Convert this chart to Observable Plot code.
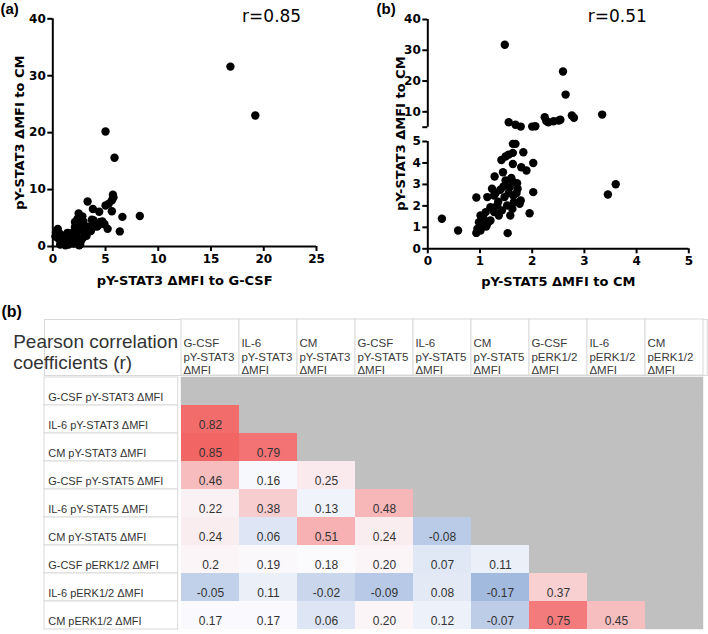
<!DOCTYPE html>
<html><head><meta charset="utf-8">
<script src="https://cdn.jsdelivr.net/npm/d3@7"></script>
<script src="https://cdn.jsdelivr.net/npm/@observablehq/plot@0.6"></script>
<style>
body{margin:0;background:#fff}
#fig{position:relative;width:708px;height:634px;overflow:hidden;background:#fff}
#fig svg{position:absolute;overflow:visible}
</style>
</head><body><div id="fig"></div>
<script>
// ---------- Panel (a) data ----------
const aXTicks = [0, 5, 10, 15, 20, 25];
const aYTicks = [0, 10, 20, 30, 40];
const aXLabel = "pY-STAT3 ΔMFI to G-CSF";
const aYLabel = "pY-STAT3 ΔMFI to CM";
const aR = "r=0.85";
const aPoints = [
  [16.84,31.6],[19.2,23.0],[5.0,20.2],[5.85,15.6],
  [5.7,9.1],[5.75,8.6],[5.6,8.1],[5.3,7.5],[5.0,7.2],[3.3,7.9],[3.8,6.6],[4.4,6.1],[5.6,6.2],
  [6.6,5.2],[8.25,5.35],[6.35,2.65],[5.2,3.1],[4.3,3.7],[4.7,4.4],[3.85,4.6],[2.45,5.8],[2.8,5.3],
  [2.1,4.3],[2.75,4.1],[3.4,3.5],[3.7,4.7],[2.1,3.4],[0.47,3.1],[0.3,2.5],[0.7,2.2],[1.2,1.9],
  [1.65,2.1],[1.95,2.5],[2.6,2.8],[3.05,2.5],[3.2,1.9],[2.9,1.6],[2.3,1.5],[1.8,1.2],[1.35,1.05],
  [0.9,0.95],[0.55,1.35],[0.25,1.75],[1.0,0.5],[1.5,0.35],[2.0,0.5],[2.45,0.75],[2.6,0.35],[0.7,0.35],
  [3.5,3.1],[3.95,3.5],[2.35,4.9],[1.4,2.4],[2.2,2.0],[1.1,1.5],[0.8,1.8],[2.7,1.1],[3.0,3.3],
  [2.5,3.6],[1.9,1.7],[1.6,0.8],[2.9,4.4],[4.5,4.3],[4.9,3.9],[4.2,3.5],[2.5,0.2],[1.2,0.2],[3.6,2.7]
];

// ---------- Panel (b) data (broken y axis) ----------
const bXTicks = [0, 1, 2, 3, 4, 5];
const bYTicksLow = [0, 1, 2, 3, 4, 5];
const bYTicksHigh = [5, 10, 20, 30, 40];
const bXLabel = "pY-STAT5 ΔMFI to CM";
const bYLabel = "pY-STAT3 ΔMFI to CM";
const bR = "r=0.51";
const bPointsHigh = [
  [1.475,31.8],[2.59,23.1],[2.64,15.6],[3.34,9.1],[2.76,8.8],[2.8,8.05],[2.24,8.25],[2.31,6.6],
  [2.41,6.95],[2.51,7.2],[2.54,7.4],[1.55,6.6],[1.68,5.8],[1.78,5.2],[2.0,5.2],[2.06,5.3],[2.27,7.0]
];
const bPointsLow = [
  [0.27,1.40],[0.58,0.85],[0.93,2.39],[0.93,0.74],[1.53,0.73],[1.95,1.66],[2.02,2.64],[2.02,4.0],
  [1.83,4.5],[1.68,4.89],[1.63,4.89],[1.63,4.47],[1.55,4.39],[1.49,4.3],[1.41,4.14],[1.63,3.95],
  [1.79,3.8],[1.89,3.65],[1.44,3.57],[1.28,3.37],[1.49,3.18],[1.63,3.13],[1.71,3.06],[1.57,2.87],
  [1.39,2.75],[1.23,2.8],[1.14,2.41],[1.27,2.48],[1.47,2.41],[1.64,2.48],[1.72,2.8],[1.78,2.25],
  [1.65,2.17],[1.52,2.02],[1.62,1.86],[1.76,2.1],[1.33,2.02],[1.2,1.94],[1.11,1.71],[1.27,1.71],
  [1.01,1.55],[1.07,1.4],[0.98,1.24],[1.04,1.09],[0.95,0.93],[1.01,0.85],[1.12,1.04],[1.2,1.32],
  [1.36,1.55],[1.42,1.79],[1.58,1.55],[3.45,2.53],[3.6,3.01],[1.3,2.6],[1.45,2.9],[1.55,2.6],
  [1.35,2.2],[1.15,1.2],[1.25,1.9],[1.7,2.6],[1.6,3.3]
];

// ---------- Correlation table data ----------
const tableTitle = "Pearson correlation\ncoefficients (r)";
const colHeaders = [
  "G-CSF\npY-STAT3\nΔMFI","IL-6\npY-STAT3\nΔMFI","CM\npY-STAT3\nΔMFI",
  "G-CSF\npY-STAT5\nΔMFI","IL-6\npY-STAT5\nΔMFI","CM\npY-STAT5\nΔMFI",
  "G-CSF\npERK1/2\nΔMFI","IL-6\npERK1/2\nΔMFI","CM\npERK1/2\nΔMFI"
];
const rowLabels = [
  "G-CSF pY-STAT3 ΔMFI","IL-6 pY-STAT3 ΔMFI","CM pY-STAT3 ΔMFI",
  "G-CSF pY-STAT5 ΔMFI","IL-6 pY-STAT5 ΔMFI","CM pY-STAT5 ΔMFI",
  "G-CSF pERK1/2 ΔMFI","IL-6 pERK1/2 ΔMFI","CM pERK1/2 ΔMFI"
];
const r_GCSF_STAT3 = [];
const r_IL6_STAT3  = ["0.82"];
const r_CM_STAT3   = ["0.85","0.79"];
const r_GCSF_STAT5 = ["0.46","0.16","0.25"];
const r_IL6_STAT5  = ["0.22","0.38","0.13","0.48"];
const r_CM_STAT5   = ["0.24","0.06","0.51","0.24","-0.08"];
const r_GCSF_ERK   = ["0.2","0.19","0.18","0.20","0.07","0.11"];
const r_IL6_ERK    = ["-0.05","0.11","-0.02","-0.09","0.08","-0.17","0.37"];
const r_CM_ERK     = ["0.17","0.17","0.06","0.20","0.12","-0.07","0.75","0.45"];
const lower = [r_GCSF_STAT3,r_IL6_STAT3,r_CM_STAT3,r_GCSF_STAT5,r_IL6_STAT5,r_CM_STAT5,r_GCSF_ERK,r_IL6_ERK,r_CM_ERK];

// ---------- helpers ----------
const fig = document.getElementById("fig");
function place(svg, left, top) { svg.style.left = left + "px"; svg.style.top = top + "px"; fig.appendChild(svg); }
const baseStyle = {background: "transparent", overflow: "visible", fontFamily: "DejaVu Sans", color: "black"};
const axisOpts = {tickSize: 5, fontSize: 12, fontWeight: "bold", color: "black", strokeWidth: 2, label: null};
const P = d => d[0], Q = d => d[1];
const DOT_R = 4.2;

// ---------- Panel (a) ----------
place(Plot.plot({
  width: 340, height: 300, marginLeft: 52.3, marginRight: 24, marginTop: 18.3, marginBottom: 54,
  style: baseStyle,
  x: {domain: [0, 25]}, y: {domain: [0, 40]},
  marks: [
    Plot.axisX(aXTicks, {...axisOpts, tickPadding: 3}),
    Plot.axisY(aYTicks, {...axisOpts, tickPadding: 2}),
    Plot.ruleX([0], {y1: 0, y2: 40, strokeWidth: 2}),
    Plot.ruleY([0], {x1: 0, x2: 25, strokeWidth: 2}),
    Plot.dot(aPoints, {x: P, y: Q, r: DOT_R, fill: "black"}),
    Plot.text([aXLabel], {frameAnchor: "bottom", dy: 38, fontSize: 13, fontWeight: "bold"}),
    Plot.text([aYLabel], {frameAnchor: "left", textAnchor: "middle", dx: -33, rotate: -90, fontSize: 13, fontWeight: "bold"}),
    Plot.text([aR], {frameAnchor: "top", dx: 87, dy: -8.8, fontSize: 17}),
    Plot.text(["(a)"], {frameAnchor: "top-left", dx: -52.3, dy: -15.5, lineAnchor: "top", textAnchor: "start", fontSize: 15, fontWeight: "bold", fontFamily: "Liberation Sans"})
  ]
}), 0, 0);

// ---------- Panel (b), upper segment ----------
place(Plot.plot({
  width: 368, height: 130, marginLeft: 87.3, marginRight: 19.7, marginTop: 19, marginBottom: 3.3,
  style: baseStyle,
  x: {domain: [0, 5], axis: null}, y: {domain: [5, 40]},
  marks: [
    Plot.axisY(bYTicksHigh, {...axisOpts, tickPadding: 2, tickFormat: d => d === 5 ? "" : d}),
    Plot.ruleX([0], {y1: 5, y2: 40, strokeWidth: 2}),
    Plot.dot(bPointsHigh, {x: P, y: Q, r: DOT_R, fill: "black"}),
    Plot.text([bR], {frameAnchor: "top", dx: 59, dy: -9.5, fontSize: 17}),
    Plot.text(["(b)"], {frameAnchor: "top-left", dx: -51.3, dy: -16.2, lineAnchor: "top", textAnchor: "start", fontSize: 15, fontWeight: "bold", fontFamily: "Liberation Sans"})
  ]
}), 340, 0);

// ---------- Panel (b), lower segment ----------
place(Plot.plot({
  width: 368, height: 170, marginLeft: 87.3, marginRight: 19.7, marginTop: 11, marginBottom: 51.7,
  style: baseStyle,
  x: {domain: [0, 5]}, y: {domain: [0, 5]},
  marks: [
    Plot.axisX(bXTicks, {...axisOpts, tickPadding: 3}),
    Plot.axisY(bYTicksLow, {...axisOpts, tickPadding: 2}),
    Plot.ruleX([0], {y1: 0, y2: 5, strokeWidth: 2}),
    Plot.ruleY([0], {x1: 0, x2: 5, strokeWidth: 2}),
    Plot.dot(bPointsLow, {x: P, y: Q, r: DOT_R, fill: "black"}),
    Plot.text([bXLabel], {frameAnchor: "bottom", dy: 36.7, fontSize: 13, fontWeight: "bold"}),
    Plot.text([bYLabel], {frameAnchor: "left", textAnchor: "middle", dx: -27.3, dy: -61.6, rotate: -90, fontSize: 13, fontWeight: "bold"})
  ]
}), 340, 130);

// ---------- Table ----------
const colKeys = colHeaders;
const cells = [], greys = [];
rowLabels.forEach((r, i) => colKeys.forEach((c, j) => {
  if (j < i) cells.push({row: r, col: c, text: lower[i][j], v: +lower[i][j]});
  else greys.push({row: r, col: c});
}));
const tableFont = "Liberation Sans";
const lineCol = "#d9d9d9";

// header
place(Plot.plot({
  width: 708, height: 56, marginLeft: 177.7, marginRight: 1.3, marginTop: 0, marginBottom: 0,
  style: {...baseStyle, fontFamily: tableFont},
  x: {domain: colKeys, padding: 0, axis: null},
  marks: [
    Plot.frame({stroke: lineCol, insetLeft: -133.7, fill: "white"}),
    Plot.cell(colKeys, {x: d => d, fill: "white", stroke: lineCol, inset: 0}),
    Plot.text(colKeys, {x: d => d, frameAnchor: "top", textAnchor: "start", lineAnchor: "top", dx: -27.1, dy: 18.5, lineHeight: 1.16, fontSize: 11.5, fill: "#3a3a3a"}),
    Plot.text([tableTitle], {frameAnchor: "top-left", textAnchor: "start", lineAnchor: "top", dx: -165, dy: 13.3, lineHeight: 1.1, fontSize: 19, fill: "#333"}),
    Plot.text(["(b)"], {frameAnchor: "top-left", textAnchor: "start", lineAnchor: "top", dx: -176.7, dy: -14, fontSize: 16, fontWeight: "bold", fill: "black"})
  ]
}), 0, 319);

// row labels
place(Plot.plot({
  width: 178, height: 256.7, marginLeft: 44, marginRight: 0.3, marginTop: 0, marginBottom: 0,
  style: {...baseStyle, fontFamily: tableFont},
  y: {domain: rowLabels, padding: 0, axis: null},
  marks: [
    Plot.cell(rowLabels, {y: d => d, fill: "white", stroke: lineCol, inset: 0}),
    Plot.text(rowLabels, {y: d => d, frameAnchor: "left", textAnchor: "start", dx: 3.7, dy: 6, fontSize: 11, fill: "#333"})
  ]
}), 0, 375);

// body
place(Plot.plot({
  width: 708, height: 256.7, marginLeft: 177.7, marginRight: 1.3, marginTop: 0, marginBottom: 0,
  style: {...baseStyle, fontFamily: tableFont},
  x: {domain: colKeys, padding: 0, axis: null},
  y: {domain: rowLabels, padding: 0, axis: null},
  color: {type: "linear", domain: [-0.17, 0.175, 0.85], range: ["#a3badf", "#fbfbfe", "#f26565"]},
  marks: [
    Plot.cell(greys, {x: "col", y: "row", fill: "#c0c0c0", stroke: "#c0c0c0", strokeWidth: 0.5, inset: 0}),
    Plot.cell(cells, {x: "col", y: "row", fill: "v", inset: 0}),
    Plot.text(cells, {x: "col", y: "row", text: "text", dy: 6, fontSize: 12, fill: "#333"})
  ]
}), 0, 375);
</script>
</body></html>
